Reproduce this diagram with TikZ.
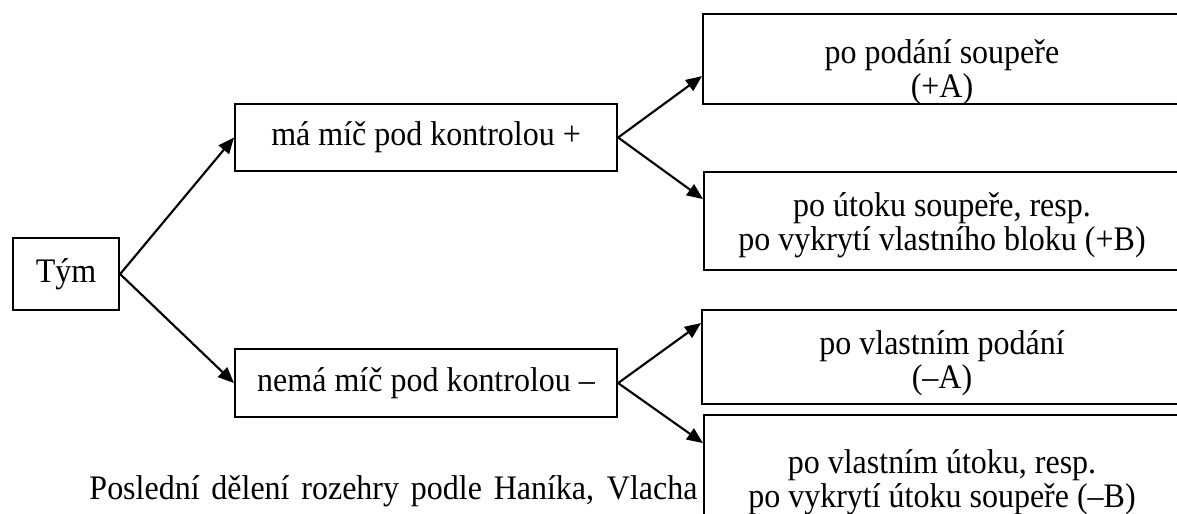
\documentclass[tikz,border=0pt]{standalone}
\usepackage{fontspec}
\setmainfont{Liberation Serif}[FakeStretch=0.93]
\usetikzlibrary{arrows.meta}

\begin{document}
\begin{tikzpicture}[x=0.375pt,y=-0.375pt,
	box/.style={draw, line width=0.8pt, inner sep=0pt, anchor=north west, fill=white},
	txt/.style={font=\fontsize{12.9}{12.6}\selectfont, align=center, inner sep=0pt},
	arr/.style={-{Triangle[length=6pt,width=5pt]}, line width=0.8pt}]
	\path[use as bounding box, clip] (0,0) rectangle (1177,514);
	\node[box, txt, minimum width=39.75pt, minimum height=27pt] (team) at (12,237) {Tým};
	\node[box, txt, minimum width=143.25pt, minimum height=25.1pt] (has) at (234,103) {má míč pod kontrolou +};
	\node[box, txt, minimum width=143.25pt, minimum height=25.5pt] (hasnot) at (234,348) {nemá míč pod kontrolou –};
	\node[txt, anchor=base east] (caption) at (698,499) {\makebox[228pt][s]{Poslední dělení rozehry podle Haníka, Vlacha}};
	\node[box, minimum width=180pt, minimum height=33.75pt] (afterA) at (702,13) {};
	\node[box, minimum width=180pt, minimum height=36.75pt] (afterB) at (703,171) {};
	\node[box, minimum width=180pt, minimum height=35.25pt] (ownA) at (701,309) {};
	\node[box, minimum width=180pt, minimum height=45pt] (ownB) at (703,414) {};
	\node[txt] (afterA-t) at (942,72) {po podání soupeře\\(+A)};
	\node[txt] (afterB-t) at (942,225) {po útoku soupeře, resp.\\po vykrytí vlastního bloku (+B)};
	\node[txt] (ownA-t) at (942,363) {po vlastním podání\\(–A)};
	\node[txt] (ownB-t) at (942,482) {po vlastním útoku, resp.\\po vykrytí útoku soupeře (–B)};
	\draw[arr] (team.east) -- (has.west);
	\draw[arr] (team.east) -- (hasnot.west);
	\draw[arr] (has.east) -- ([yshift=-6.4pt]afterA.west);
	\draw[arr] (has.east) -- ([yshift=8.25pt]afterB.west);
	\draw[arr] (hasnot.east) -- ([yshift=12.75pt]ownA.west);
	\draw[arr] (hasnot.east) -- ([yshift=-10.9pt]ownB.north west);
\end{tikzpicture}
\end{document}
